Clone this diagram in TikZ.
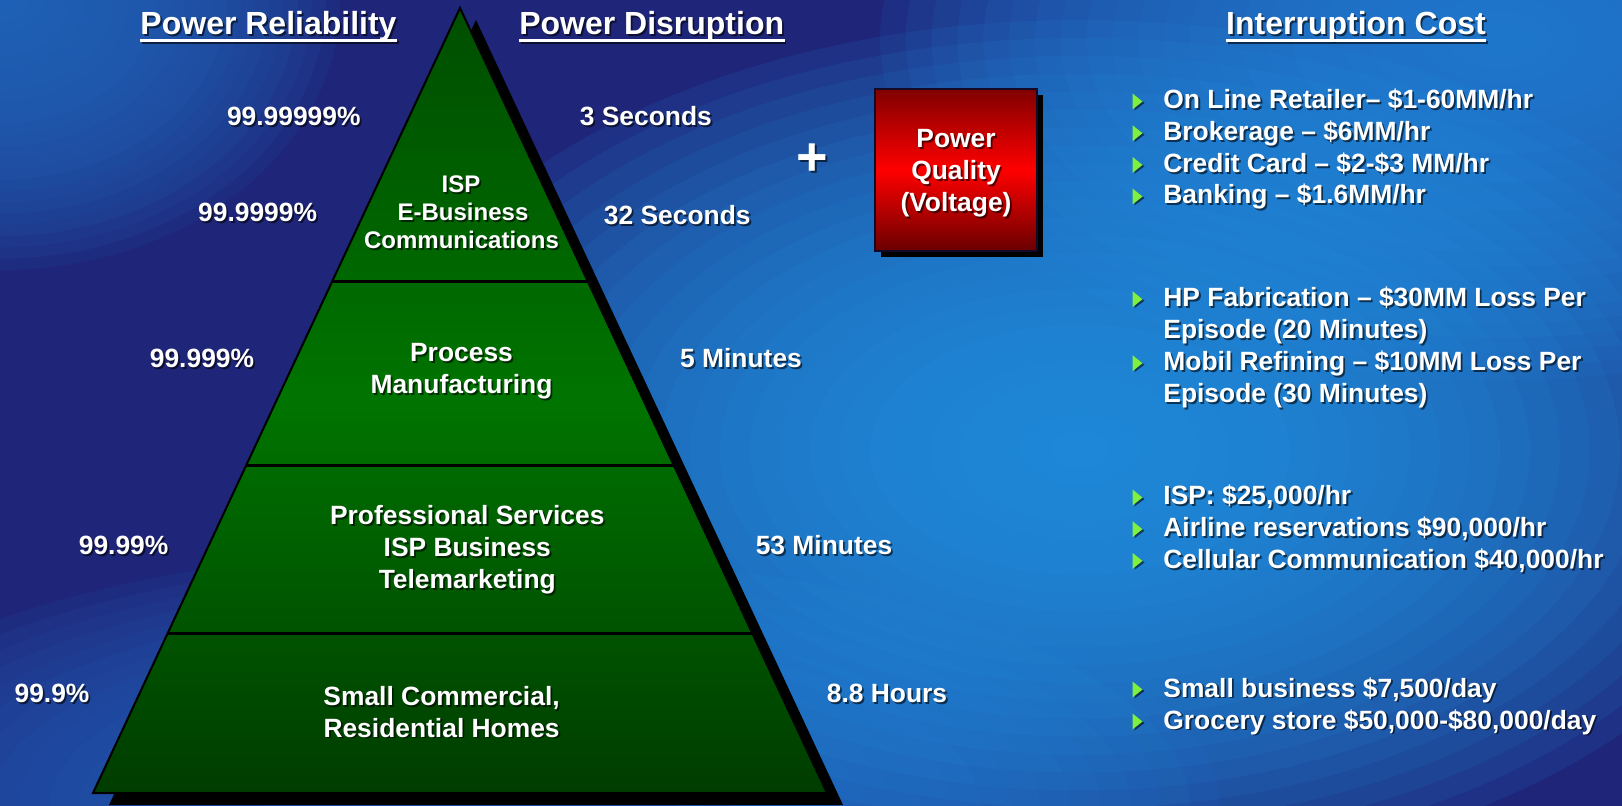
\documentclass[tikz,border=0pt]{standalone}
\usepackage{fontspec}
\setmainfont{Liberation Sans}
\usetikzlibrary{calc}

\definecolor{bgnavy}{RGB}{31,38,122}
\definecolor{glowbright}{RGB}{30,148,228}
\definecolor{glowleft}{RGB}{30,105,190}
\definecolor{glowbottom}{RGB}{30,98,186}
\definecolor{glowtopright}{RGB}{30,130,215}
\definecolor{pyrtop}{RGB}{0,78,0}
\definecolor{pyrmid}{RGB}{0,116,0}
\definecolor{pyrbot}{RGB}{0,60,0}
\definecolor{boxtop}{RGB}{128,0,0}
\definecolor{boxmid}{RGB}{255,0,0}
\definecolor{boxbot}{RGB}{105,0,0}
\definecolor{boxframe}{RGB}{20,10,40}
\definecolor{bulletgreen}{RGB}{128,240,64}

\tikzset{
  txt/.style={text=white, inner sep=0pt, font=\bfseries\fontsize{13.2}{16}\selectfont},
  smalltxt/.style={font=\bfseries\fontsize{12}{14}\selectfont},
  titletxt/.style={font=\bfseries\fontsize{16}{19}\selectfont},
  plustxt/.style={font=\bfseries\fontsize{27}{30}\selectfont},
  txtshadow/.style={text=black, text opacity=0.6},
}

% soft glow: a stack of translucent concentric ellipses
% #1 colour, #2 centre, #3 x radius, #4 y radius
\newcommand\glowat[4]{%
  \foreach \k in {1,...,24}
    \fill[#1,opacity=0.1] (#2) ellipse [x radius={#3/24*\k}, y radius={#4/24*\k}];}

% white text with a soft drop shadow
\newcommand\stxt[4][]{%
  \node[txt,#1,txtshadow] (#2-sh) at ([shift={(1.8,1.8)}]#3) {#4};
  \node[txt,#1] (#2) at (#3) {#4};}

% underline below a title node
\newcommand\uline[1]{%
  \draw[black,opacity=0.6,line width=1.25pt] ($(#1.base west)+(1.8,7.3)$) -- ($(#1.base east)+(1.8,7.3)$);
  \draw[white,line width=1.25pt] ($(#1.base west)+(0,5.5)$) -- ($(#1.base east)+(0,5.5)$);}

% green arrow-head bullet sitting on a baseline
\newcommand\bul[1]{%
  \fill[black,opacity=0.55] (1134.5,#1-13.5) -- (1144.5,#1-6) -- (1134.5,#1+1.5) -- cycle;
  \fill[bulletgreen] (1132.5,#1-15.5) -- (1142.5,#1-7.5) -- (1132.5,#1+0.5) -- cycle;}

\begin{document}
\begin{tikzpicture}[x=0.5pt,y=-0.5pt]
\useasboundingbox (0,0) rectangle (1622,806);

% background
\fill[bgnavy] (0,0) rectangle (1622,806);
\begin{scope}
  \clip (0,0) rectangle (1622,806);
  \glowat{glowleft}{0,0}{340}{270}
  \glowat{glowbottom}{500,806}{720}{260}
  \glowat{glowtopright}{1500,40}{620}{340}
  \glowat{glowbright}{1080,450}{720}{430}
\end{scope}

% titles
\stxt[titletxt,anchor=base]{t1}{268.5,35}{Power Reliability}
\stxt[titletxt,anchor=base]{t2}{651.7,35}{Power Disruption}
\stxt[titletxt,anchor=base]{t3}{1356,35}{Interruption Cost}
\uline{t1}
\uline{t2}
\uline{t3}

% pyramid
\coordinate (apex) at (460,8);
\coordinate (bl) at (93,793);
\coordinate (br) at (827,793);
\fill[black] ([shift={(16,12)}]apex) -- ([shift={(16,12)}]bl) -- ([shift={(16,12)}]br) -- cycle;
\shade[top color=pyrtop, bottom color=pyrbot, middle color=pyrmid] (apex) -- (bl) -- (br) -- cycle;
\foreach \t in {0.3478,0.5822,0.7962}
  \draw[black,line width=1.5pt] ($(apex)!\t!(bl)$) -- ($(apex)!\t!(br)$);
\draw[black,line width=1pt,line join=miter] (apex) -- (bl) -- (br) -- cycle;

% pyramid labels
\stxt[smalltxt,anchor=base]{p1a}{461,192.7}{ISP}
\stxt[smalltxt,anchor=base]{p1b}{463,220.7}{E-Business}
\stxt[smalltxt,anchor=base]{p1c}{461.5,248.3}{Communications}
\stxt[anchor=base]{p2a}{461.5,361.7}{Process}
\stxt[anchor=base]{p2b}{461.5,393.3}{Manufacturing}
\stxt[anchor=base]{p3a}{467.3,524.5}{Professional Services}
\stxt[anchor=base]{p3b}{467.3,556.5}{ISP Business}
\stxt[anchor=base]{p3c}{467.3,588.3}{Telemarketing}
\stxt[anchor=base]{p4a}{441.6,705.7}{Small Commercial,}
\stxt[anchor=base]{p4b}{441.6,737}{Residential Homes}

% reliability figures
\stxt[anchor=base]{r1}{293.8,126}{99.99999\%}
\stxt[anchor=base]{r2}{257.6,222}{99.9999\%}
\stxt[anchor=base]{r3}{202,367.5}{99.999\%}
\stxt[anchor=base]{r4}{123.6,554.5}{99.99\%}
\stxt[anchor=base]{r5}{52,702.5}{99.9\%}

% disruption times
\stxt[anchor=base]{d1}{645.9,126}{3 Seconds}
\stxt[anchor=base]{d2}{677.3,225}{32 Seconds}
\stxt[anchor=base]{d3}{741,367.5}{5 Minutes}
\stxt[anchor=base]{d4}{824,554.5}{53 Minutes}
\stxt[anchor=base]{d5}{887,702.5}{8.8 Hours}

% plus sign and power quality box
\stxt[plustxt]{plus}{812,160}{+}
\fill[black] (881,95) rectangle (1043,257);
\shade[top color=boxtop, bottom color=boxbot, middle color=boxmid] (875,89) rectangle (1037,251);
\draw[boxframe,line width=1pt] (875,89) rectangle (1037,251);
\stxt[anchor=base]{q1}{956,148}{Power}
\stxt[anchor=base]{q2}{956,180}{Quality}
\stxt[anchor=base]{q3}{956,212}{(Voltage)}

% interruption costs
\bul{109}   \stxt[anchor=base west]{c1}{1163,109}{On Line Retailer– \$1-60MM/hr}
\bul{140.7} \stxt[anchor=base west]{c2}{1163,140.7}{Brokerage – \$6MM/hr}
\bul{172.4} \stxt[anchor=base west]{c3}{1163,172.4}{Credit Card – \$2-\$3 MM/hr}
\bul{204}   \stxt[anchor=base west]{c4}{1163,204}{Banking – \$1.6MM/hr}

\bul{306.7} \stxt[anchor=base west]{c5}{1163,306.7}{HP Fabrication – \$30MM Loss Per}
            \stxt[anchor=base west]{c5b}{1163,338.7}{Episode (20 Minutes)}
\bul{370.7} \stxt[anchor=base west]{c6}{1163,370.7}{Mobil Refining – \$10MM Loss Per}
            \stxt[anchor=base west]{c6b}{1163,402.7}{Episode (30 Minutes)}

\bul{505}   \stxt[anchor=base west]{c7}{1163,505}{ISP: \$25,000/hr}
\bul{536.7} \stxt[anchor=base west]{c8}{1163,536.7}{Airline reservations \$90,000/hr}
\bul{568.4} \stxt[anchor=base west]{c9}{1163,568.4}{Cellular Communication \$40,000/hr}

\bul{697}   \stxt[anchor=base west]{c10}{1163,697}{Small business \$7,500/day}
\bul{729}   \stxt[anchor=base west]{c11}{1163,729}{Grocery store \$50,000-\$80,000/day}
\end{tikzpicture}
\end{document}
